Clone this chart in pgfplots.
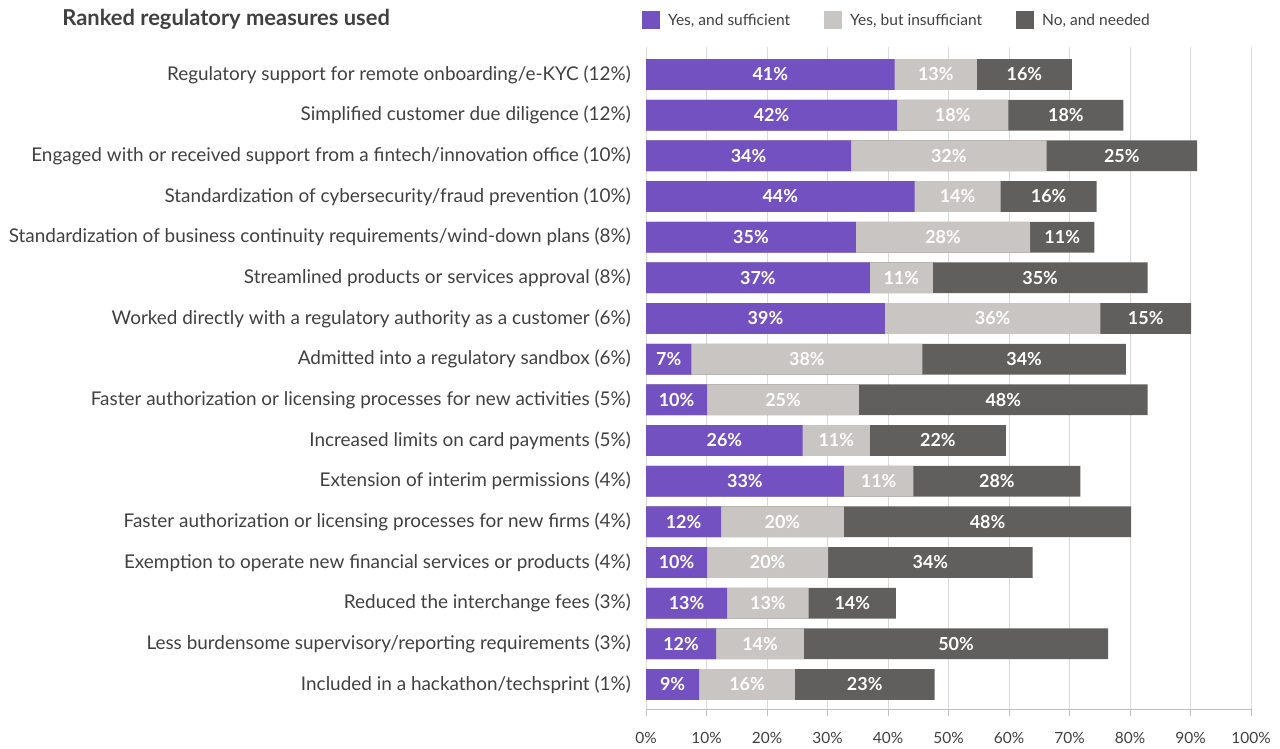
\documentclass[border=0pt]{standalone}
\usepackage{pgfplots}
\pgfplotsset{compat=1.18}
\usepackage{pgfplotstable}
\usepackage{fontspec}
\setmainfont{Lato}
\definecolor{cPurple}{RGB}{116,81,192}
\definecolor{cLight}{RGB}{201,197,194}
\definecolor{cDark}{RGB}{96,95,93}
\definecolor{cText}{RGB}{64,64,64}
\definecolor{cGrid}{RGB}{217,217,217}
\definecolor{cAxis}{RGB}{191,191,191}

\pgfplotstableread{
y a b c la lb lc
0 41.1 13.6 15.7 41 13 16
1 41.5 18.4 19.0 42 18 18
2 33.9 32.3 24.9 34 32 25
3 44.4 14.2 15.9 44 14 16
4 34.7 28.8 10.6 35 28 11
5 37.0 10.4 35.5 37 11 35
6 39.5 35.6 15.0 39 36 15
7 7.5 38.2 33.6 7 38 34
8 10.1 25.1 47.7 10 25 48
9 25.9 11.1 22.5 26 11 22
10 32.7 11.5 27.6 33 11 28
11 12.4 20.3 47.5 12 20 48
12 10.1 20.0 33.8 10 20 34
13 13.4 13.5 14.4 13 13 14
14 11.6 14.5 50.3 12 14 50
15 8.8 15.8 23.1 9 16 23
}\data

\begin{document}
\begin{tikzpicture}
\path[use as bounding box] (0,0) rectangle (1280bp,749bp);
\begin{axis}[
  at={(646bp,39.7bp)}, anchor=south west,
  scale only axis, width=605bp, height=662.6bp,
  xmin=0, xmax=100, ymin=-0.684, ymax=15.61, y dir=reverse,
  axis x line*=bottom, axis y line*=left,
  x axis line style={draw=cAxis, line width=1bp, -},
  y axis line style={draw=none},
  xtick={0,10,...,100},
  /pgf/number format/assume math mode=true,
  xticklabel={\pgfmathprintnumber{\tick}\%},
  xtick style={draw=cAxis, line width=1bp},
  tick align=outside, major tick length=7bp,
  ytick style={draw=none},
  xmajorgrids, grid style={draw=cGrid, line width=1bp},
  xticklabel style={font=\fontsize{15.5}{18}\selectfont, text=cText, anchor=base, inner sep=0pt, yshift=-26.7bp},
  yticklabel style={font=\fontsize{19}{22}\selectfont, text=cText, anchor=east, inner sep=0pt, xshift=-8bp},
  ytick={0,...,15},
  yticklabels={
    {Regulatory support for remote onboarding/e-KYC (12\%)},
    {Simplified customer due diligence (12\%)},
    {Engaged with or received support from a fintech/innovation office (10\%)},
    {Standardization of cybersecurity/fraud prevention (10\%)},
    {Standardization of business continuity requirements/wind-down plans (8\%)},
    {Streamlined products or services approval (8\%)},
    {Worked directly with a regulatory authority as a customer (6\%)},
    {Admitted into a regulatory sandbox (6\%)},
    {Faster authorization or licensing processes for new activities (5\%)},
    {Increased limits on card payments (5\%)},
    {Extension of interim permissions (4\%)},
    {Faster authorization or licensing processes for new firms (4\%)},
    {Exemption to operate new financial services or products (4\%)},
    {Reduced the interchange fees (3\%)},
    {Less burdensome supervisory/reporting requirements (3\%)},
    {Included in a hackathon/techsprint (1\%)}
  },
  title={Ranked regulatory measures used},
  title style={at={(axis description cs:-0.965,1.0235)}, anchor=base west, inner sep=0pt,
    font=\fontsize{22}{26}\selectfont\bfseries, text=cText},
  legend columns=3,
  legend style={at={(axis description cs:-0.0066,1.040)}, anchor=west, draw=none, fill=none,
    inner sep=0pt, outer sep=0pt,
    nodes={inner sep=0pt, font=\fontsize{15.6}{18}\selectfont, text=cText},
    /tikz/every odd column/.append style={column sep=8bp},
    /tikz/every even column/.append style={column sep=34bp}},
  legend cell align=left,
  legend image code/.code={\fill[#1] (0bp,-9bp) rectangle (18bp,9bp);},
]
\addlegendimage{fill=cPurple, draw=none}
\addlegendentry{Yes, and sufficient}
\addlegendimage{fill=cLight, draw=none}
\addlegendentry{Yes, but insufficiant}
\addlegendimage{fill=cDark, draw=none}
\addlegendentry{No, and needed}

\addplot[xbar, bar width=0.755, bar shift=0pt, fill=cDark, draw=none, forget plot]
  table[x expr=\thisrow{a}+\thisrow{b}+\thisrow{c}, y=y]{\data};
\addplot[xbar, bar width=0.755, bar shift=0pt, fill=cLight, draw=none, forget plot]
  table[x expr=\thisrow{a}+\thisrow{b}, y=y]{\data};
\addplot[xbar, bar width=0.755, bar shift=0pt, fill=cPurple, draw=none, forget plot]
  table[x=a, y=y]{\data};

\pgfplotsset{lbl/.style={draw=none, mark=none, forget plot, nodes near coords={\pgfplotspointmeta\%},
  point meta=explicit symbolic,
  nodes near coords style={anchor=center, inner sep=0pt, text=white, font=\fontsize{18}{21}\selectfont\bfseries}}}
\addplot[lbl] table[x expr=\thisrow{a}/2, y=y, meta=la]{\data};
\addplot[lbl] table[x expr=\thisrow{a}+\thisrow{b}/2, y=y, meta=lb]{\data};
\addplot[lbl] table[x expr=\thisrow{a}+\thisrow{b}+\thisrow{c}/2, y=y, meta=lc]{\data};
\end{axis}
\end{tikzpicture}
\end{document}
